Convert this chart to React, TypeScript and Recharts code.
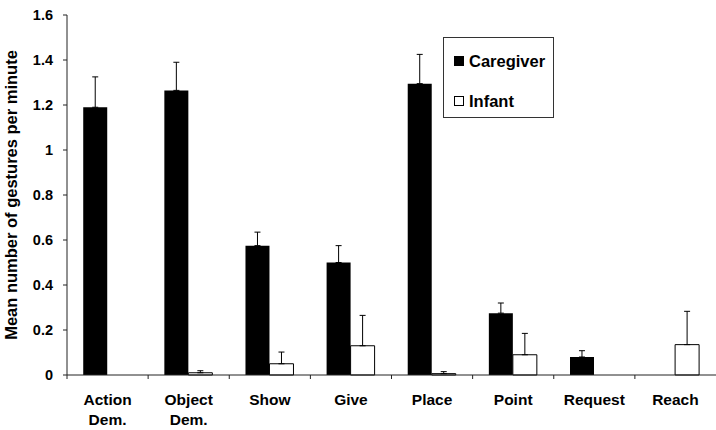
import { BarChart, Bar, XAxis, YAxis, ErrorBar, Legend } from "recharts";

const categories = ["Action|Dem.", "Object|Dem.", "Show", "Give", "Place", "Point", "Request", "Reach"];
const caregiver = [1.19, 1.265, 0.575, 0.5, 1.295, 0.275, 0.08, 0];
const caregiverErr = [0.135, 0.125, 0.06, 0.075, 0.13, 0.045, 0.028, null];
const infant = [0, 0.01, 0.05, 0.13, 0.006, 0.09, 0, 0.135];
const infantErr = [null, 0.009, 0.052, 0.135, 0.009, 0.095, null, 0.148];
const yTicks = [0, 0.2, 0.4, 0.6, 0.8, 1, 1.2, 1.4, 1.6];

const FONT = "'Liberation Sans', Arial, sans-serif";

const data = categories.map((name, i) => ({
  name,
  caregiver: caregiver[i],
  caregiverErr: caregiverErr[i] == null ? null : [0, caregiverErr[i]],
  infant: infant[i],
  infantErr: infantErr[i] == null ? null : [0, infantErr[i]],
}));

// category label under each group, tick marks sit on the group boundaries
const CategoryTick = (props: any) => {
  const { x, y, payload, width } = props;
  const half = payload?.offset ? payload.offset : width / categories.length / 2;
  const lines = String(payload.value).split("|");
  return (
    <g>
      <line x1={x - half} x2={x - half} y1={y} y2={y + 4} stroke="#222" />
      <text
        x={x}
        y={y + 30}
        textAnchor="middle"
        fontFamily={FONT}
        fontWeight="bold"
        fontSize={15.5}
        fill="#000"
      >
        {lines.map((l, i) => (
          <tspan key={i} x={x} dy={i === 0 ? 0 : 20}>
            {l}
          </tspan>
        ))}
      </text>
    </g>
  );
};

const LegendBox = () => (
  <div
    style={{
      border: "1px solid #333",
      width: 111,
      height: 81,
      boxSizing: "border-box",
      background: "#fff",
      fontFamily: FONT,
      fontWeight: "bold",
      fontSize: 16.5,
      color: "#000",
      padding: "12px 0 0 10px",
    }}
  >
    <div style={{ display: "flex", alignItems: "center", height: 22 }}>
      <span style={{ width: 10, height: 10, background: "#000", marginRight: 5, display: "inline-block" }} />
      Caregiver
    </div>
    <div style={{ display: "flex", alignItems: "center", height: 22, marginTop: 18 }}>
      <span
        style={{
          width: 10,
          height: 10,
          border: "1px solid #000",
          boxSizing: "border-box",
          background: "#fff",
          marginRight: 5,
          display: "inline-block",
        }}
      />
      Infant
    </div>
  </div>
);

export default function App() {
  return (
    <div style={{ position: "absolute", left: 0, top: 0, background: "#fff" }}>
      <BarChart
        width={716}
        height={430}
        data={data}
        margin={{ top: 15, right: 0, bottom: 0, left: 0 }}
        barCategoryGap="20%"
        barGap={0}
      >
        <XAxis
          dataKey="name"
          height={55}
          tickSize={0}
          tickMargin={0}
          tick={<CategoryTick />}
          axisLine={{ stroke: "#222" }}
          interval={0}
        />
        <YAxis
          width={67}
          domain={[0, 1.6]}
          ticks={yTicks}
          tickSize={4}
          tickMargin={10}
          axisLine={{ stroke: "#222" }}
          tickLine={{ stroke: "#222" }}
          tick={{ fontSize: 14.5, fontWeight: "bold", fill: "#000", fontFamily: FONT }}
          label={{
            value: "Mean number of gestures per minute",
            angle: -90,
            position: "insideLeft",
            offset: 11,
            style: { textAnchor: "middle", fontSize: 16.5, fontWeight: "bold", fill: "#000", fontFamily: FONT },
          }}
        />
        <Legend
          layout="vertical"
          align="center"
          verticalAlign="middle"
          content={<LegendBox />}
          wrapperStyle={{ left: 443, top: 37, width: 111, height: 81 }}
        />
        <Bar dataKey="caregiver" name="Caregiver" fill="#000" isAnimationActive={false}>
          <ErrorBar dataKey="caregiverErr" direction="y" width={3} stroke="#000" strokeWidth={1} />
        </Bar>
        <Bar dataKey="infant" name="Infant" fill="#fff" stroke="#000" strokeWidth={1} isAnimationActive={false}>
          <ErrorBar dataKey="infantErr" direction="y" width={3} stroke="#000" strokeWidth={1} />
        </Bar>
      </BarChart>
    </div>
  );
}
